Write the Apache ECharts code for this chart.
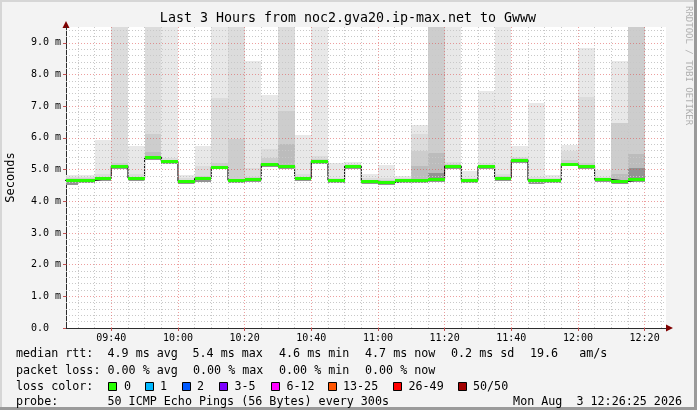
<!DOCTYPE html>
<html><head><meta charset="utf-8">
<script src="https://cdn.jsdelivr.net/npm/echarts@6/dist/echarts.min.js"></script>
<style>html,body{margin:0;padding:0;background:#f3f3f3}#c{width:697px;height:410px}</style>
</head><body><div id="c"></div>
<script>
// ---------- data ----------
const xStart = '09:26:25';
const xEnd = '12:26:25';
const binEnds = ['09:30','09:35','09:40','09:45','09:50','09:55','10:00','10:05','10:10','10:15',
  '10:20','10:25','10:30','10:35','10:40','10:45','10:50','10:55','11:00','11:05',
  '11:10','11:15','11:20','11:25','11:30','11:35','11:40','11:45','11:50','11:55',
  '12:00','12:05','12:10','12:15','12:20'];
const binMinutes = 5;
// median rtt (ms)
const median = [4.66,4.66,4.72,5.11,4.73,5.40,5.26,4.63,4.72,5.08,
  4.66,4.69,5.19,5.11,4.72,5.26,4.66,5.11,4.63,4.60,
  4.66,4.66,4.69,5.11,4.66,5.10,4.73,5.30,4.66,4.66,
  5.19,5.11,4.69,4.63,4.69];
// smoke: lowest ping, then tops of successively darker shades (null = none)
const smokeLo = [4.52,4.57,4.64,5.03,4.64,5.31,5.19,4.54,4.62,5.01,
  4.57,4.60,5.09,5.01,4.63,5.18,4.57,5.02,4.54,4.51,
  4.57,4.57,4.60,5.03,4.57,5.02,4.64,5.22,4.54,4.58,
  5.10,5.02,4.60,4.54,4.60];
const smokeMax = [4.82,4.84,5.93,10,5.75,10,10,4.84,5.75,10,
  10,8.42,7.35,10,6.08,10,5.22,5.25,4.85,5.14,
  4.80,6.42,10,10,4.95,7.49,10,5.75,7.09,4.84,
  5.78,8.84,5.00,8.43,10];
const smokeB = [4.78,4.78,4.85,10,4.85,10,5.36,4.75,5.11,7.26,
  10,5.06,5.64,10,4.85,5.43,4.75,5.18,4.75,4.75,
  4.72,6.11,10,5.25,4.75,5.22,4.85,5.40,4.78,4.74,
  5.59,7.30,4.78,6.48,10];
const smokeC = [4.72,4.72,4.78,5.20,4.78,6.11,5.30,4.68,4.80,5.20,
  5.96,4.78,5.36,6.85,4.78,5.33,4.70,5.14,4.68,4.66,
  4.70,5.59,10,5.18,4.70,5.16,4.80,5.36,4.70,4.70,
  5.30,5.22,4.74,6.48,10];
const smokeD = [null,null,null,null,null,5.55,null,null,null,null,
  null,null,null,5.80,null,null,null,null,null,null,
  null,5.11,5.53,null,null,null,null,null,null,null,
  null,null,null,4.85,5.48];
const smokeE = [4.63,4.63,4.69,5.08,4.70,5.37,5.23,4.60,4.69,5.05,
  4.63,4.66,5.16,5.08,4.69,5.23,4.63,5.08,4.60,4.57,
  4.63,4.63,4.90,5.08,4.63,5.07,4.70,5.27,4.62,4.63,
  5.16,5.08,4.66,4.60,5.06];
const xTickLabels = ['09:40','10:00','10:20','10:40','11:00','11:20','11:40','12:00','12:20'];
const yTickLabels = ['0.0','1.0 m','2.0 m','3.0 m','4.0 m','5.0 m','6.0 m','7.0 m','8.0 m','9.0 m'];
const lossLabels = ['0','1','2','3-5','6-12','13-25','26-49','50/50'];
const lossColors = ['#26ff00','#00b8ff','#0059ff','#7e00ff','#ff00ff','#ff5500','#ff0000','#a10000'];
const statsRtt = ['4.9 ms avg','5.4 ms max','4.6 ms min','4.7 ms now','0.2 ms sd','19.6   am/s'];
const statsLoss = ['0.00 % avg','0.00 % max','0.00 % min','0.00 % now'];
const titleText = 'Last 3 Hours from noc2.gva20.ip-max.net to Gwww';
const probeText = '50 ICMP Echo Pings (56 Bytes) every 300s';
const dateText = 'Mon Aug  3 12:26:25 2026';

// ---------- helpers ----------
function toMin(s){ const p = s.split(':').map(Number); return p[0]*60 + p[1] + (p[2]||0)/60; }
const xMin = toMin(xStart), xMax = toMin(xEnd);
const xTickValues = xTickLabels.map(toMin);
const smokeColors = ['#e8e8e8','#dcdcdc','#cdcdcd','#bcbcbc','#939393'];
const MONO = '"DejaVu Sans Mono", monospace';

const smokeData = binEnds.map((t,i)=>[toMin(t)-binMinutes, toMin(t), smokeLo[i], smokeMax[i], smokeB[i], smokeC[i], smokeD[i]==null?'-':smokeD[i], smokeE[i]]);
const medSeg = binEnds.map((t,i)=>[toMin(t)-binMinutes, toMin(t), median[i]]);
const stepData = binEnds.map((t,i)=>[toMin(t)-binMinutes, median[i]]);
stepData.push([toMin(binEnds[binEnds.length-1]), median[median.length-1]]);

// grid lines (tick positions)
const vMinor=[], vMajor=[], hMinor=[], hMajor=[];
for (let m = Math.ceil(xMin/5)*5; m < xMax; m += 5) { (m % 20 === 0 ? vMajor : vMinor).push(m); }
for (let i = 1; i <= 47; i++) { const v = +(i*0.2).toFixed(1); (i % 5 === 0 ? hMajor : hMinor).push(v); }
const minorStyle = {color:'#c8c8c8', width:1, type:[1,2]};
const majorStyle = {color:'rgba(222,80,80,0.55)', width:1, type:[1,2]};
const gridMarks = [].concat(
  vMinor.map(v=>({xAxis:v, lineStyle:minorStyle})),
  hMinor.map(v=>({yAxis:v, lineStyle:minorStyle})),
  vMajor.map(v=>({xAxis:v, lineStyle:majorStyle})),
  hMajor.map(v=>({yAxis:v, lineStyle:majorStyle}))
);

function clampRect(cs, x0, y0, x1, y1){
  const L = cs.x, R = cs.x + cs.width, T = cs.y, B = cs.y + cs.height;
  x0 = Math.max(L, Math.min(R, x0)); x1 = Math.max(L, Math.min(R, x1));
  y0 = Math.max(T, Math.min(B, y0)); y1 = Math.max(T, Math.min(B, y1));
  return [Math.round(x0), Math.round(y0), Math.round(x1), Math.round(y1)];
}

function renderSmoke(params, api){
  const cs = params.coordSys;
  const x0 = api.value(0), x1 = api.value(1), lo = api.value(2);
  const children = [];
  for (let k = 0; k < 5; k++){
    const top = api.value(3+k);
    if (!(top > lo)) continue;
    const a = api.coord([x0, top]), b = api.coord([x1, lo]);
    const r = clampRect(cs, a[0], a[1], b[0], b[1]);
    if (r[2] <= r[0] || r[3] <= r[1]) continue;
    children.push({type:'rect', shape:{x:r[0], y:r[1], width:r[2]-r[0], height:r[3]-r[1]}, style:{fill:smokeColors[k]}});
  }
  return {type:'group', children};
}

function renderMedian(params, api){
  const cs = params.coordSys;
  const a = api.coord([api.value(0), api.value(2)]), b = api.coord([api.value(1), api.value(2)]);
  const xa = Math.max(cs.x, Math.round(a[0])), xb = Math.min(cs.x+cs.width, Math.round(b[0]));
  if (xb <= xa) return null;
  const y = Math.round(a[1]) + 0.5;
  return {type:'line', shape:{x1:xa, y1:y, x2:xb, y2:y}, style:{stroke:'#26ff00', lineWidth:3}};
}

// ---------- layout graphics ----------
const gfx = [];
gfx.push({type:'rect', shape:{x:0,y:0,width:697,height:2}, style:{fill:'#d6d6d6'}, silent:true});
gfx.push({type:'rect', shape:{x:0,y:0,width:2,height:410}, style:{fill:'#d6d6d6'}, silent:true});
gfx.push({type:'rect', shape:{x:0,y:407,width:697,height:3}, style:{fill:'#9a9a9a'}, silent:true});
gfx.push({type:'rect', shape:{x:694,y:0,width:3,height:410}, style:{fill:'#9a9a9a'}, silent:true});
gfx.push({type:'text', x:348, y:19, style:{text:titleText, font:'13.3px '+MONO, fill:'#000', align:'center', verticalAlign:'middle'}});
gfx.push({type:'text', x:688, y:6, rotation:-Math.PI/2, style:{text:'RRDTOOL / TOBI OETIKER', font:'9px '+MONO, fill:'#b0b0b0', align:'left', verticalAlign:'middle'}});
gfx.push({type:'polygon', shape:{points:[[666,324.5],[673,328],[666,331.5]]}, style:{fill:'#7f0000'}});
gfx.push({type:'polygon', shape:{points:[[62.5,28],[66,21],[69.5,28]]}, style:{fill:'#7f0000'}});
const LF = '11.7px '+MONO;
const rowY = [354, 371, 387, 402];
function txt(x, y, s, align){ gfx.push({type:'text', x:x, y:y, style:{text:s, font:LF, fill:'#000', align:align||'left', verticalAlign:'middle'}}); }
txt(16, rowY[0], 'median rtt:');
const rttX = [107.5, 192.5, 279, 365, 451, 530];
statsRtt.forEach((s,i)=>txt(rttX[i], rowY[0], s));
txt(16, rowY[1], 'packet loss:');
const lossX = [107.5, 193, 279, 365];
statsLoss.forEach((s,i)=>txt(lossX[i], rowY[1], s));
txt(16, rowY[2], 'loss color:');
const boxX = [108, 145, 182, 219, 271, 328, 393, 458];
const labX = [124, 160, 197, 234.5, 286.5, 343, 408.5, 473];
lossLabels.forEach((s,i)=>{
  gfx.push({type:'rect', shape:{x:boxX[i]+0.5, y:rowY[2]-4.5, width:8, height:8}, style:{fill:lossColors[i], stroke:'#000', lineWidth:1}});
  txt(labX[i], rowY[2], s);
});
txt(16, rowY[3], 'probe:');
txt(107.5, rowY[3], probeText);
txt(682, rowY[3], dateText, 'right');

// ---------- chart ----------
const chart = echarts.init(document.getElementById('c'), null, {renderer:'canvas'});
chart.setOption({
  animation:false,
  backgroundColor:'#f3f3f3',
  grid:{left:66, right:31, top:27, bottom:82, containLabel:false, outerBoundsMode:'none', show:true, backgroundColor:'#ffffff', borderWidth:0},
  xAxis:{
    type:'value', min:xMin, max:xMax,
    axisLine:{show:true, onZero:false, lineStyle:{color:'#2c2c2c', width:1}},
    axisTick:{show:true, length:3, customValues:xTickValues, lineStyle:{color:'#c05050'}},
    axisLabel:{customValues:xTickValues, formatter:v=>{const i = xTickValues.findIndex(t=>Math.abs(t-v)<1e-6); return i>=0?xTickLabels[i]:'';},
      fontFamily:'"DejaVu Sans Mono", monospace', fontSize:10, color:'#000', margin:5},
    splitLine:{show:false}
  },
  yAxis:{
    type:'value', min:0, max:9.5, interval:1,
    name:'Seconds', nameLocation:'middle', nameGap:49, nameRotate:90,
    nameTextStyle:{fontFamily:'"DejaVu Sans Mono", monospace', fontSize:12, color:'#000'},
    axisLine:{show:true, lineStyle:{color:'#2c2c2c', width:1}},
    axisTick:{show:true, length:3, lineStyle:{color:'#c05050'}},
    axisLabel:{showMaxLabel:false, align:'left', margin:35, fontFamily:'"DejaVu Sans Mono", monospace', fontSize:10, color:'#000',
      formatter:v=>{const i = Math.round(v); return Math.abs(i-v)<1e-6 && yTickLabels[i]!==undefined ? yTickLabels[i] : '';}},
    splitLine:{show:false}
  },
  graphic:gfx,
  series:[
    {type:'custom', name:'smoke', z:2, renderItem:renderSmoke, data:smokeData, encode:{x:[0,1], y:[2,3]}, silent:true},
    {type:'line', name:'grid', z:3, data:[], silent:true,
      markLine:{silent:true, symbol:['none','none'], label:{show:false}, animation:false, data:gridMarks}},
    {type:'line', name:'step', z:4, data:stepData, step:'end', showSymbol:false, lineStyle:{color:'#000', width:1}, silent:true},
    {type:'custom', name:'median', z:5, renderItem:renderMedian, data:medSeg, encode:{x:[0,1], y:[2]}, silent:true}
  ]
});
</script></body></html>
